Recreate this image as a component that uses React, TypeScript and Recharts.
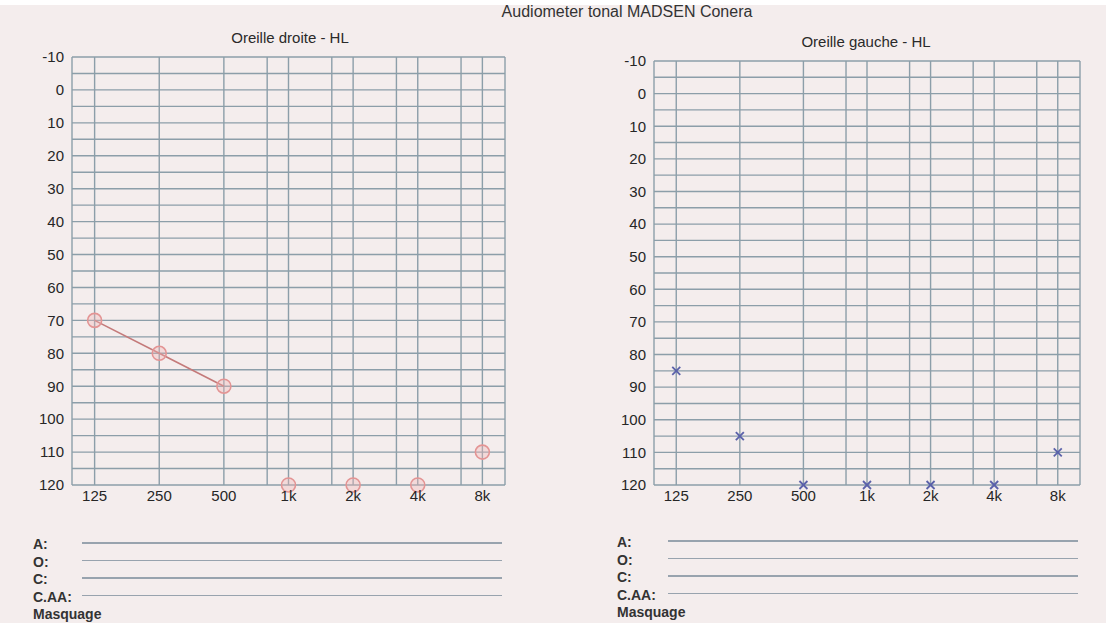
import React from 'react';
import { ComposedChart, Line, XAxis, YAxis, CartesianGrid } from 'recharts';

// fréquences affichées (position = octave depuis 125 Hz)
const FREQ_LABELS = ['125', '250', '500', '1k', '2k', '4k', '8k'];
// lignes intermédiaires 750, 1.5k, 3k, 6k
const MID_LINES = [2.67, 3.67, 4.67, 5.67];
const X_DOMAIN = [-0.35, 6.35];

const DB_TICKS = [-10, -5, 0, 5, 10, 15, 20, 25, 30, 35, 40, 45, 50, 55, 60, 65, 70, 75, 80, 85, 90, 95, 100, 105, 110, 115, 120];

// Oreille droite (O)
const RIGHT_EAR_DB = [70, 80, 90, 120, 120, 120, 110];
const RIGHT_EAR_LINKED = [70, 80, 90, null, null, null, null];
// Oreille gauche (X)
const LEFT_EAR_DB = [85, 105, 120, 120, 120, 120, 110];

const ROW_LABELS = ['A:', 'O:', 'C:', 'C.AA:', 'Masquage'];

const FONT = '"Liberation Sans", Arial, sans-serif';
const PAPER = '#f4eded';
const GRID = '#8c9ea9';
const TEXT = '#262626';

const xTicks = [X_DOMAIN[0], ...FREQ_LABELS.map((_, i) => i), ...MID_LINES, X_DOMAIN[1]].sort((a, b) => a - b);

const xLabel = (v: number) => (Number.isInteger(v) && v >= 0 ? FREQ_LABELS[v] : '');
const yLabel = (v: number) => (v % 10 === 0 ? String(v) : '');

const CrossDot = (props: any) => {
  const { cx, cy } = props;
  if (cx == null || cy == null) return null;
  const s = 4;
  return (
    <g stroke="#5a61aa" strokeWidth={1.8}>
      <line x1={cx - s} y1={cy - s} x2={cx + s} y2={cy + s} />
      <line x1={cx - s} y1={cy + s} x2={cx + s} y2={cy - s} />
    </g>
  );
};

interface AudiogramProps {
  width: number;
  height: number;
  margin: { top: number; right: number; bottom: number; left: number };
  ear: 'right' | 'left';
}

const Audiogram: React.FC<AudiogramProps> = ({ width, height, margin, ear }) => {
  const data = FREQ_LABELS.map((f, i) => ({
    x: i,
    freq: f,
    db: ear === 'right' ? RIGHT_EAR_DB[i] : LEFT_EAR_DB[i],
    linked: ear === 'right' ? RIGHT_EAR_LINKED[i] : null,
  }));

  const tick = { fill: TEXT, fontSize: 15, fontFamily: FONT };

  return (
    <ComposedChart width={width} height={height} data={data} margin={margin}>
      <CartesianGrid stroke={GRID} strokeWidth={1.4} />
      <XAxis
        type="number"
        dataKey="x"
        domain={X_DOMAIN}
        ticks={xTicks}
        interval={0}
        tickFormatter={xLabel}
        axisLine={false}
        tickLine={false}
        tickSize={2}
        tickMargin={3}
        height={30}
        tick={tick}
      />
      <YAxis
        type="number"
        domain={[-10, 120]}
        reversed
        ticks={DB_TICKS}
        interval={0}
        tickFormatter={yLabel}
        axisLine={false}
        tickLine={false}
        width={40}
        tick={tick}
      />
      {ear === 'right' && (
        <Line
          dataKey="linked"
          stroke="#c47a7a"
          strokeWidth={1.6}
          dot={false}
          activeDot={false}
          isAnimationActive={false}
        />
      )}
      {ear === 'right' ? (
        <Line
          dataKey="db"
          stroke="none"
          dot={{ r: 7, stroke: '#e39494', strokeWidth: 1.6, fill: 'rgba(240,180,180,0.35)' }}
          activeDot={false}
          isAnimationActive={false}
        />
      ) : (
        <Line dataKey="db" stroke="none" dot={<CrossDot />} activeDot={false} isAnimationActive={false} />
      )}
    </ComposedChart>
  );
};

const Rows: React.FC<{ left: number; top: number; lineFrom: number; lineTo: number }> = ({ left, top, lineFrom, lineTo }) => (
  <>
    {ROW_LABELS.map((l, i) => (
      <div
        key={l}
        style={{
          position: 'absolute',
          left,
          top: top + i * 17.5,
          fontSize: 14,
          fontWeight: 700,
          color: '#333',
          lineHeight: '14px',
        }}
      >
        {l}
      </div>
    ))}
    {ROW_LABELS.slice(0, 4).map((l, i) => (
      <div
        key={'line' + l}
        style={{
          position: 'absolute',
          left: lineFrom,
          width: lineTo - lineFrom,
          top: top + i * 17.5 + 5,
          height: 1.5,
          background: '#98a3ae',
        }}
      />
    ))}
  </>
);

export default function App() {
  return (
    <div
      style={{
        position: 'relative',
        width: 1106,
        height: 623,
        overflow: 'hidden',
        background: PAPER,
        fontFamily: FONT,
      }}
    >
      <style>{'body{margin:0}'}</style>
      <div style={{ position: 'absolute', left: 0, top: 0, width: 1106, height: 5, background: '#fff' }} />
      <div
        style={{
          position: 'absolute',
          left: 0,
          width: 1106,
          top: 4,
          textAlign: 'center',
          fontSize: 16,
          lineHeight: '16px',
          color: '#333',
          paddingLeft: 148,
          boxSizing: 'border-box',
        }}
      >
        Audiometer tonal MADSEN Conera
      </div>

      <div style={{ position: 'absolute', left: 0, width: 580, top: 29, textAlign: 'center', fontSize: 15, color: '#2a2a2a' }}>
        Oreille droite - HL
      </div>
      <div style={{ position: 'absolute', left: 578, width: 576, top: 33, textAlign: 'center', fontSize: 15, color: '#2a2a2a' }}>
        Oreille gauche - HL
      </div>

      <div style={{ position: 'absolute', left: 0, top: 0 }}>
        <Audiogram width={530} height={520} margin={{ top: 57, right: 25, bottom: 5, left: 32 }} ear="right" />
      </div>
      <div style={{ position: 'absolute', left: 580, top: 0 }}>
        <Audiogram width={526} height={520} margin={{ top: 61, right: 26, bottom: 5, left: 34 }} ear="left" />
      </div>

      <Rows left={33} top={537} lineFrom={82} lineTo={502} />
      <Rows left={617} top={535} lineFrom={668} lineTo={1078} />
    </div>
  );
}
